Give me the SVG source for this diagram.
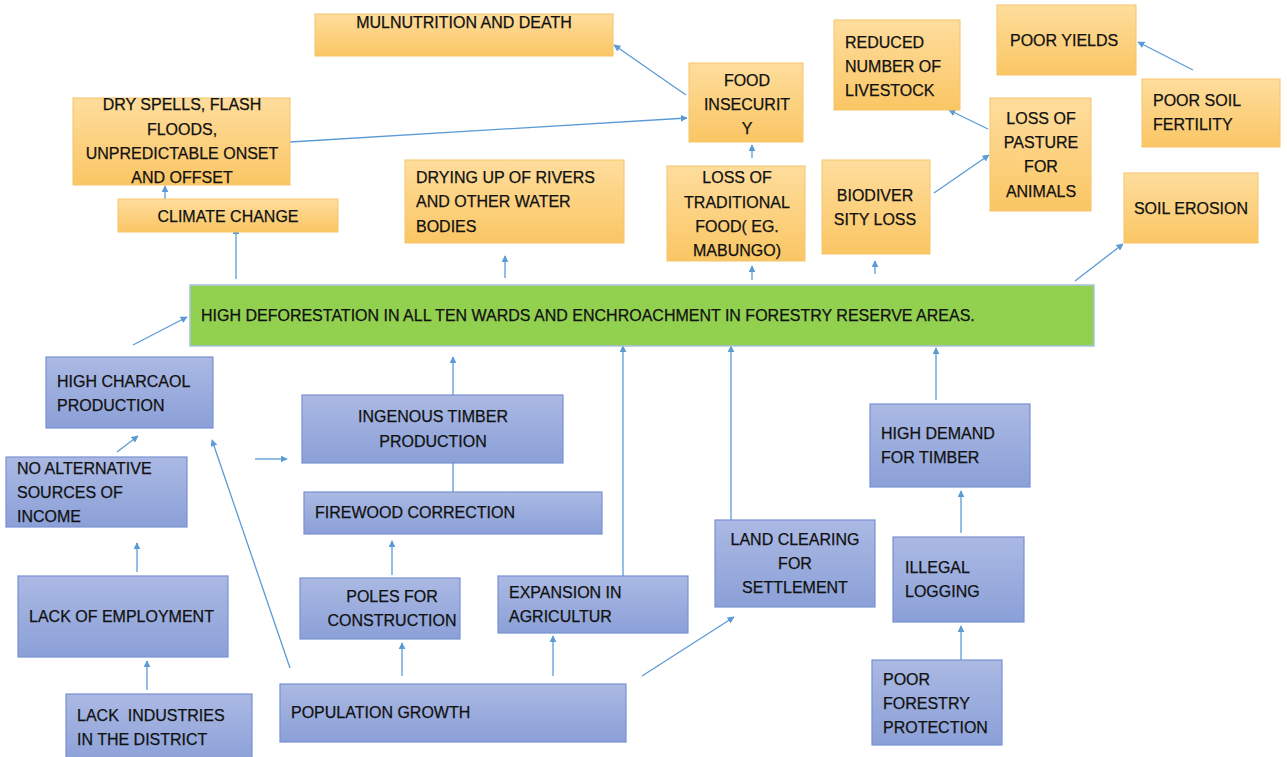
<svg xmlns="http://www.w3.org/2000/svg" width="1287" height="757" viewBox="0 0 1287 757">
  <defs>
    <linearGradient id="gOrange" x1="0" y1="0" x2="0" y2="1">
      <stop offset="0" stop-color="#fedd9d"/>
      <stop offset="1" stop-color="#fac664"/>
    </linearGradient>
    <linearGradient id="gBlue" x1="0" y1="0" x2="0" y2="1">
      <stop offset="0" stop-color="#abb9e3"/>
      <stop offset="1" stop-color="#8ba0d8"/>
    </linearGradient>
    <marker id="arr" viewBox="0 0 10 10" refX="9" refY="5" markerWidth="7" markerHeight="7" markerUnits="userSpaceOnUse" orient="auto">
      <path d="M0,0 L10,5 L0,10 Z" fill="#5b9bd5"/>
    </marker>
    <style>
      .o { fill: url(#gOrange); stroke: #f6c46a; stroke-width: 1; }
      .b { fill: url(#gBlue); stroke: #7991d2; stroke-width: 1.2; }
      .g { fill: #92d050; stroke: #a9c3de; stroke-width: 1.5; }
      text { font-family: "Liberation Sans", Arial, sans-serif; font-size: 16px; fill: #111; stroke: #111; stroke-width: 0.25; white-space: pre; }
      .c { text-anchor: middle; }
      .ln { stroke: #5b9bd5; stroke-width: 1.3; fill: none; }
      .ln.a { marker-end: url(#arr); }
    </style>
  </defs>

  <!-- connectors -->
  <g id="connectors">
    <line class="ln a" x1="290" y1="142" x2="687" y2="118"/>
    <line class="ln a" x1="686" y1="95" x2="614" y2="45"/>
    <line class="ln a" x1="752" y1="158" x2="752" y2="145"/>
    <line class="ln a" x1="165" y1="199" x2="165" y2="186"/>
    <line class="ln a" x1="236" y1="279" x2="236" y2="228"/>
    <line class="ln a" x1="505" y1="278" x2="505" y2="256"/>
    <line class="ln a" x1="752" y1="280" x2="752" y2="266"/>
    <line class="ln a" x1="875" y1="274" x2="875" y2="261"/>
    <line class="ln a" x1="1075" y1="281" x2="1123" y2="244"/>
    <line class="ln a" x1="934" y1="193" x2="989" y2="155"/>
    <line class="ln a" x1="988" y1="129" x2="949" y2="110"/>
    <line class="ln a" x1="1193" y1="70" x2="1138" y2="42"/>

    <line class="ln a" x1="133" y1="345" x2="187" y2="317"/>
    <line class="ln a" x1="117" y1="452" x2="138" y2="436"/>
    <line class="ln a" x1="137" y1="572" x2="137" y2="543"/>
    <line class="ln a" x1="147" y1="690" x2="147" y2="661"/>
    <line class="ln a" x1="290" y1="668" x2="212" y2="440"/>
    <line class="ln a" x1="255" y1="459" x2="287" y2="459"/>
    <line class="ln a" x1="453" y1="395" x2="453" y2="357"/>
    <line class="ln" x1="453" y1="463" x2="453" y2="492"/>
    <line class="ln a" x1="392" y1="575" x2="392" y2="541"/>
    <line class="ln a" x1="623" y1="576" x2="623" y2="346"/>
    <line class="ln a" x1="731" y1="546" x2="731" y2="346"/>
    <line class="ln a" x1="402" y1="676" x2="402" y2="643"/>
    <line class="ln a" x1="553" y1="676" x2="553" y2="636"/>
    <line class="ln a" x1="642" y1="676" x2="734" y2="617"/>
    <line class="ln a" x1="936" y1="400" x2="936" y2="348"/>
    <line class="ln a" x1="961" y1="533" x2="961" y2="491"/>
    <line class="ln a" x1="961" y1="668" x2="961" y2="626"/>
  </g>

  <!-- effects -->
  <g id="n_mul"><rect class="o" x="315" y="14" width="298" height="42"/><text class="c" x="464" y="28">MULNUTRITION AND DEATH</text></g>
  <g id="n_dry"><rect class="o" x="73" y="98" width="217" height="87"/>
    <text class="c" x="182" y="110">DRY SPELLS, FLASH</text>
    <text class="c" x="182" y="135">FLOODS,</text>
    <text class="c" x="182" y="159">UNPREDICTABLE ONSET</text>
    <text class="c" x="182" y="183">AND OFFSET</text></g>
  <g id="n_clim"><rect class="o" x="118" y="199" width="220" height="33"/><text class="c" x="228" y="222">CLIMATE CHANGE</text></g>
  <g id="n_riv"><rect class="o" x="405" y="160" width="219" height="83"/>
    <text x="416" y="183">DRYING UP OF RIVERS</text>
    <text x="416" y="207">AND OTHER WATER</text>
    <text x="416" y="232">BODIES</text></g>
  <g id="n_food"><rect class="o" x="689" y="63" width="114" height="79"/>
    <text class="c" x="747" y="86">FOOD</text>
    <text class="c" x="747" y="110">INSECURIT</text>
    <text class="c" x="747" y="134">Y</text></g>
  <g id="n_trad"><rect class="o" x="667" y="166" width="138" height="95"/>
    <text class="c" x="737" y="183">LOSS OF</text>
    <text class="c" x="737" y="208">TRADITIONAL</text>
    <text class="c" x="737" y="232">FOOD( EG.</text>
    <text class="c" x="737" y="256">MABUNGO)</text></g>
  <g id="n_live"><rect class="o" x="834" y="20" width="126" height="90"/>
    <text x="845" y="48">REDUCED</text>
    <text x="845" y="72">NUMBER OF</text>
    <text x="845" y="96">LIVESTOCK</text></g>
  <g id="n_bio"><rect class="o" x="822" y="160" width="108" height="94"/>
    <text class="c" x="875" y="201">BIODIVER</text>
    <text class="c" x="875" y="225">SITY LOSS</text></g>
  <g id="n_past"><rect class="o" x="990" y="98" width="101" height="113"/>
    <text class="c" x="1041" y="124">LOSS OF</text>
    <text class="c" x="1041" y="148">PASTURE</text>
    <text class="c" x="1041" y="172">FOR</text>
    <text class="c" x="1041" y="197">ANIMALS</text></g>
  <g id="n_yield"><rect class="o" x="997" y="5" width="139" height="70"/><text x="1010" y="46">POOR YIELDS</text></g>
  <g id="n_fert"><rect class="o" x="1142" y="79" width="138" height="68"/>
    <text x="1153" y="106">POOR SOIL</text>
    <text x="1153" y="130">FERTILITY</text></g>
  <g id="n_eros"><rect class="o" x="1124" y="173" width="134" height="70"/><text class="c" x="1191" y="214">SOIL EROSION</text></g>

  <!-- core problem -->
  <g id="n_core"><rect class="g" x="190" y="285" width="904" height="61"/>
    <text x="201" y="321">HIGH DEFORESTATION IN ALL TEN WARDS AND ENCHROACHMENT IN FORESTRY RESERVE AREAS.</text></g>

  <!-- causes -->
  <g id="n_char"><rect class="b" x="46" y="357" width="167" height="71"/>
    <text x="57" y="387">HIGH CHARCAOL</text>
    <text x="57" y="411">PRODUCTION</text></g>
  <g id="n_noalt"><rect class="b" x="6" y="457" width="181" height="70"/>
    <text x="17" y="474">NO ALTERNATIVE</text>
    <text x="17" y="498">SOURCES OF</text>
    <text x="17" y="522">INCOME</text></g>
  <g id="n_ingen"><rect class="b" x="302" y="395" width="261" height="68"/>
    <text class="c" x="433" y="422">INGENOUS TIMBER</text>
    <text class="c" x="433" y="447">PRODUCTION</text></g>
  <g id="n_fire"><rect class="b" x="304" y="492" width="298" height="42"/><text x="315" y="518">FIREWOOD CORRECTION</text></g>
  <g id="n_emp"><rect class="b" x="18" y="576" width="210" height="81"/><text x="29" y="622">LACK OF EMPLOYMENT</text></g>
  <g id="n_poles"><rect class="b" x="300" y="578" width="160" height="61"/>
    <text class="c" x="392" y="602">POLES FOR</text>
    <text class="c" x="392" y="626">CONSTRUCTION</text></g>
  <g id="n_agri"><rect class="b" x="498" y="576" width="190" height="57"/>
    <text x="509" y="598">EXPANSION IN</text>
    <text x="509" y="622">AGRICULTUR</text></g>
  <g id="n_land"><rect class="b" x="715" y="520" width="160" height="87"/>
    <text class="c" x="795" y="545">LAND CLEARING</text>
    <text class="c" x="795" y="569">FOR</text>
    <text class="c" x="795" y="593">SETTLEMENT</text></g>
  <g id="n_dem"><rect class="b" x="870" y="404" width="160" height="83"/>
    <text x="881" y="439">HIGH DEMAND</text>
    <text x="881" y="463">FOR TIMBER</text></g>
  <g id="n_ill"><rect class="b" x="893" y="537" width="131" height="85"/>
    <text x="905" y="573">ILLEGAL</text>
    <text x="905" y="597">LOGGING</text></g>
  <g id="n_poor"><rect class="b" x="872" y="660" width="130" height="85"/>
    <text x="883" y="685">POOR</text>
    <text x="883" y="709">FORESTRY</text>
    <text x="883" y="733">PROTECTION</text></g>
  <g id="n_ind"><rect class="b" x="66" y="694" width="186" height="70"/>
    <text x="77" y="721">LACK  INDUSTRIES</text>
    <text x="77" y="745">IN THE DISTRICT</text></g>
  <g id="n_pop"><rect class="b" x="280" y="684" width="346" height="58"/><text x="291" y="718">POPULATION GROWTH</text></g>
</svg>
